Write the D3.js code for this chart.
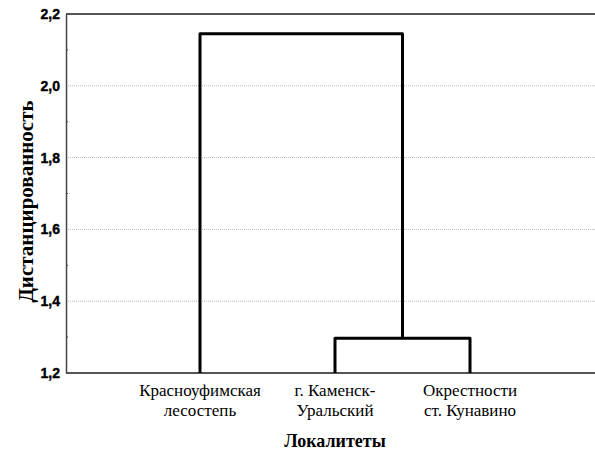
<!DOCTYPE html>
<html><head><meta charset="utf-8">
<script src="https://cdn.jsdelivr.net/npm/d3@7"></script>
<style>body{margin:0;background:#fff}svg{display:block}</style>
</head><body>
<svg id="c" width="595" height="452"></svg>
<script>
const leaves = ["Красноуфимская\nлесостепь", "г. Каменск-\nУральский", "Окрестности\nст. Кунавино"];
const mergeLeft = [1, 2];      // indices merged first
const mergeHeights = [1.297, 2.145];
const yTicks = [1.2, 1.4, 1.6, 1.8, 2.0, 2.2];
const yMinor = [1.3, 1.5, 1.7, 1.9, 2.1];
const yTitle = "Дистанцированность";
const xTitle = "Локалитеты";

const SERIF = "'Liberation Serif', 'Times New Roman', serif";
const SANS = "'Liberation Sans', Arial, sans-serif";
const svg = d3.select("#c");
const m = {l: 66, r: 0, t: 14, b: 79};
const W = 595, H = 452;
const x = d3.scalePoint().domain(d3.range(leaves.length)).range([200, 470]);
const y = d3.scaleLinear().domain([1.2, 2.2]).range([H - m.b, m.t]);
const fmt = d => d3.format(".1f")(d).replace(".", ",");

// grid
svg.append("g").selectAll("line").data(yTicks.filter(d => d > 1.2 && d < 2.2)).join("line")
  .attr("x1", m.l).attr("x2", W).attr("y1", d => y(d)).attr("y2", d => y(d))
  .attr("stroke", "#bbb").attr("stroke-width", 1).attr("stroke-dasharray", "1,1");

// top frame line
svg.append("line").attr("x1", m.l).attr("x2", W).attr("y1", y(2.2)).attr("y2", y(2.2))
  .attr("stroke", "#555").attr("stroke-width", 2);
// bottom axis line
svg.append("line").attr("x1", m.l).attr("x2", W).attr("y1", y(1.2)).attr("y2", y(1.2))
  .attr("stroke", "#555").attr("stroke-width", 2);

// y axis
const ya = svg.append("g").attr("transform", `translate(${m.l},0)`)
  .call(d3.axisLeft(y).tickValues(yTicks).tickFormat(fmt).tickSize(0).tickPadding(6));
ya.select(".domain").attr("stroke", "#444").attr("stroke-width", 1.5);
ya.selectAll("text").style("font-family", SANS)
  .style("font-weight", "900").style("font-size", "14px").attr("fill", "#000")
  .attr("stroke", "#000").attr("stroke-width", 0.4);
svg.append("g").selectAll("line").data(yMinor).join("line")
  .attr("x1", m.l).attr("x2", m.l + 2).attr("y1", d => y(d)).attr("y2", d => y(d))
  .attr("stroke", "#444").attr("stroke-width", 1);

// dendrogram
const xm = (x(mergeLeft[0]) + x(mergeLeft[1])) / 2;
const g = svg.append("g").attr("fill", "none").attr("stroke", "#000").attr("stroke-width", 3)
  .attr("stroke-linejoin", "round");
g.append("path").attr("d", d3.line()([
  [x(mergeLeft[0]), y(1.2)], [x(mergeLeft[0]), y(mergeHeights[0])],
  [x(mergeLeft[1]), y(mergeHeights[0])], [x(mergeLeft[1]), y(1.2)]]));
g.append("path").attr("d", d3.line()([
  [x(0), y(1.2)], [x(0), y(mergeHeights[1])],
  [xm, y(mergeHeights[1])], [xm, y(mergeHeights[0])]]));

// leaf labels
leaves.forEach((lab, i) => {
  const t = svg.append("text").attr("text-anchor", "middle")
    .style("font-family", SERIF).style("font-size", "17px");
  lab.split("\n").forEach((s, j) => t.append("tspan").attr("x", x(i)).attr("y", 396 + j * 20).text(s));
});

svg.append("text").attr("x", 335).attr("y", 447).attr("text-anchor", "middle")
  .style("font-family", SERIF).style("font-weight", "bold")
  .style("font-size", "18px").text(xTitle);
svg.append("text").attr("transform", `translate(33,${(y(1.2)+y(2.2))/2 + 8}) rotate(-90)`)
  .attr("text-anchor", "middle")
  .style("font-family", SERIF).style("font-weight", "bold")
  .style("font-size", "21px").text(yTitle);
</script>
</body></html>
